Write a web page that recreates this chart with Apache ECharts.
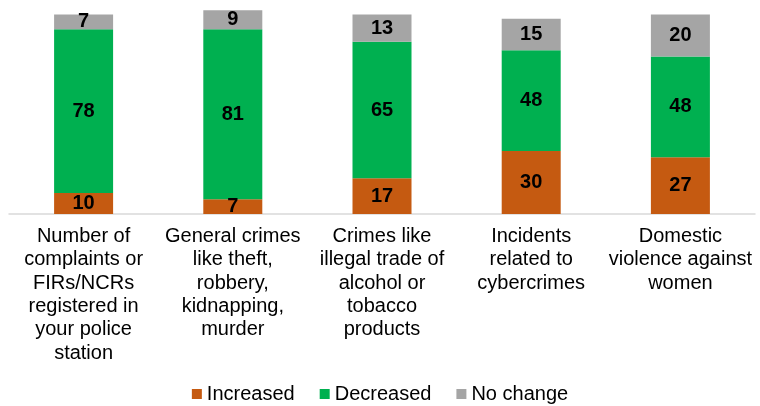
<!DOCTYPE html>
<html>
<head>
<meta charset="utf-8">
<style>
  html, body { margin: 0; padding: 0; background: #ffffff; }
  #chart { width: 760px; height: 406px; }
</style>
<script src="https://cdn.jsdelivr.net/npm/echarts@6/dist/echarts.min.js"></script>
</head>
<body>
<div id="chart"></div>
<script>
// Survey responses: share of respondents reporting each change
const categories = [
  'Number of\ncomplaints or\nFIRs/NCRs\nregistered in\nyour police\nstation',
  'General crimes\nlike theft,\nrobbery,\nkidnapping,\nmurder',
  'Crimes like\nillegal trade of\nalcohol or\ntobacco\nproducts',
  'Incidents\nrelated to\ncybercrimes',
  'Domestic\nviolence against\nwomen'
];
const increased = [10, 7, 17, 30, 27];
const decreased = [78, 81, 65, 48, 48];
const noChange = [7, 9, 13, 15, 20];

const seriesNames = ['Increased', 'Decreased', 'No change'];
const seriesColors = ['#C55A11', '#00B050', '#A5A5A5'];
const seriesData = [increased, decreased, noChange];

const FONT = '"Liberation Sans", Arial, sans-serif';

const chart = echarts.init(document.getElementById('chart'), null, { renderer: 'canvas' });

chart.setOption({
  animation: false,
  backgroundColor: '#ffffff',
  textStyle: { fontFamily: FONT },
  grid: { left: 9, right: 5, top: 4, bottom: 192, containLabel: false },
  legend: {
    top: 379,
    left: 'center',
    itemWidth: 10,
    itemHeight: 10,
    itemGap: 25,
    icon: 'rect',
    textStyle: { fontFamily: FONT, fontSize: 20, color: '#000000', padding: [0, 0, 0, 0] },
    data: seriesNames
  },
  xAxis: {
    type: 'category',
    data: categories,
    axisLine: { show: true, lineStyle: { color: '#D9D9D9', width: 1.5 } },
    axisTick: { show: false },
    axisLabel: {
      interval: 0,
      margin: 11,
      fontFamily: FONT,
      fontSize: 20,
      lineHeight: 23.3,
      color: '#000000',
      align: 'center'
    }
  },
  yAxis: {
    type: 'value',
    min: 0,
    max: 100,
    show: false,
    splitLine: { show: false }
  },
  series: seriesData.map((data, i) => ({
    name: seriesNames[i],
    type: 'bar',
    stack: 'total',
    data: data,
    barWidth: 59,
    itemStyle: { color: seriesColors[i] },
    label: {
      show: true,
      position: 'inside',
      fontFamily: FONT,
      fontSize: 20,
      fontWeight: 'bold',
      color: '#000000'
    }
  }))
});
</script>
</body>
</html>
